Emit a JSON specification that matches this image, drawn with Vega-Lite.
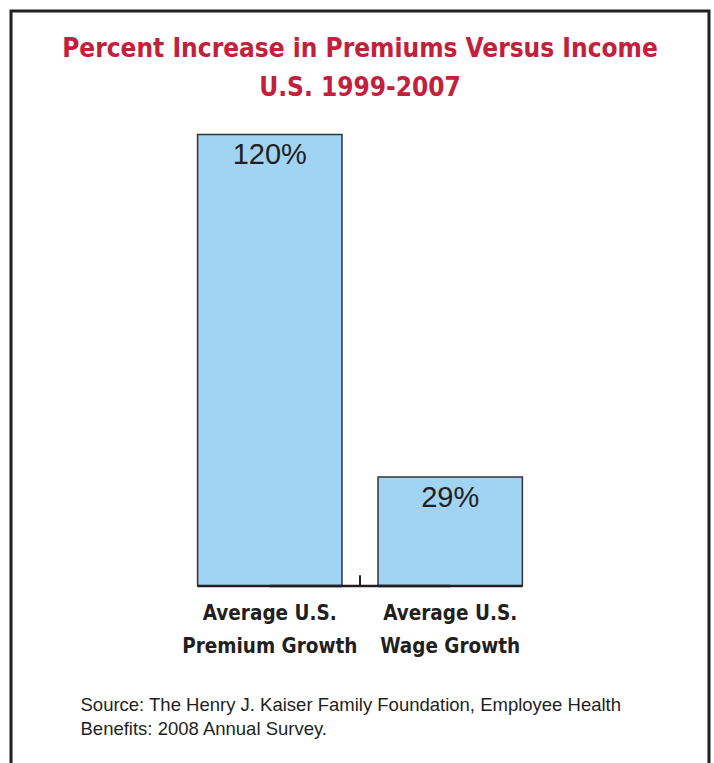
{
  "$schema": "https://vega.github.io/schema/vega-lite/v6.json",
  "width": 698,
  "height": 800,
  "padding": {"left": 11, "top": 11, "right": 5, "bottom": 0},
  "background": "white",
  "title": {
    "text": ["Percent Increase in Premiums Versus Income", "U.S. 1999-2007"],
    "font": "DejaVu Sans Condensed, sans-serif",
    "fontSize": 26,
    "fontWeight": "bold",
    "color": "#c4203b",
    "anchor": "middle",
    "frame": "group",
    "baseline": "top",
    "offset": -90,
    "lineHeight": 39
  },
  "config": {
    "view": {"stroke": "#231f20", "strokeWidth": 3}
  },
  "data": {
    "values": [
      {"category": "Average U.S.|Premium Growth", "pct": 120, "label": "120%"},
      {"category": "Average U.S.|Wage Growth", "pct": 29, "label": "29%"}
    ]
  },
  "layer": [
    {
      "layer": [
        {
          "mark": {"type": "bar", "fill": "#a0d4f2", "stroke": "#333333", "strokeWidth": 1.5, "width": {"band": 0.921}},
          "encoding": {
            "x": {
              "field": "category",
              "type": "nominal",
              "sort": null,
              "scale": {"paddingInner": 0.131, "paddingOuter": 1, "align": 0.5},
              "axis": {
                "orient": "bottom",
                "offset": -225,
                "domain": false,
                "ticks": false,
                "labelAngle": 0,
                "labelExpr": "split(datum.label, '|')",
                "labelFont": "DejaVu Sans Condensed, sans-serif",
                "labelFontSize": 20.5,
                "labelFontWeight": "bold",
                "labelColor": "#231f20",
                "labelPadding": 17,
                "labelLineHeight": 33,
                "labelBaseline": "top",
                "labelLimit": 400,
                "labelOverlap": false,
                "labelBound": false,
                "title": ["Source: The Henry J. Kaiser Family Foundation, Employee Health", "Benefits: 2008 Annual Survey."],
                "titleFont": "Liberation Sans, Arial, sans-serif",
                "titleFontSize": 18.5,
                "titleFontWeight": "normal",
                "titleColor": "#231f20",
                "titleAlign": "left",
                "titleAnchor": "start",
                "titleAngle": 0,
                "titleX": 69,
                "titleY": 109,
                "titleBaseline": "top",
                "titleLineHeight": 24
              }
            },
            "y": {
              "field": "pct",
              "type": "quantitative",
              "scale": {"domain": [-59.8, 152.82], "nice": false, "zero": false},
              "axis": null
            },
            "y2": {"datum": 0}
          }
        },
        {
          "mark": {"type": "text", "font": "Liberation Sans, Arial, sans-serif", "fontSize": 29, "color": "#231f20", "baseline": "alphabetic", "dy": 30},
          "encoding": {
            "x": {"field": "category", "type": "nominal", "sort": null},
            "y": {"field": "pct", "type": "quantitative"},
            "text": {"field": "label"}
          }
        },
        {
          "mark": {"type": "bar", "fill": null, "stroke": "#231f20", "strokeWidth": 2.7, "width": {"band": 0.921}},
          "encoding": {
            "x": {"field": "category", "type": "nominal", "sort": null},
            "y": {"datum": 0},
            "y2": {"datum": 0}
          }
        },
        {
          "mark": {"type": "line", "color": "#231f20", "strokeWidth": 2.7},
          "encoding": {
            "x": {"field": "category", "type": "nominal", "sort": null},
            "y": {"datum": 0}
          }
        }
      ]
    },
    {
      "mark": {"type": "rule", "color": "#231f20", "strokeWidth": 2},
      "encoding": {
        "x": {"datum": 0.5, "type": "quantitative", "scale": {"domain": [0, 1], "nice": false, "zero": false}, "axis": null},
        "y": {"datum": 0},
        "y2": {"datum": 2.8}
      }
    }
  ],
  "resolve": {"scale": {"x": "independent"}}
}
